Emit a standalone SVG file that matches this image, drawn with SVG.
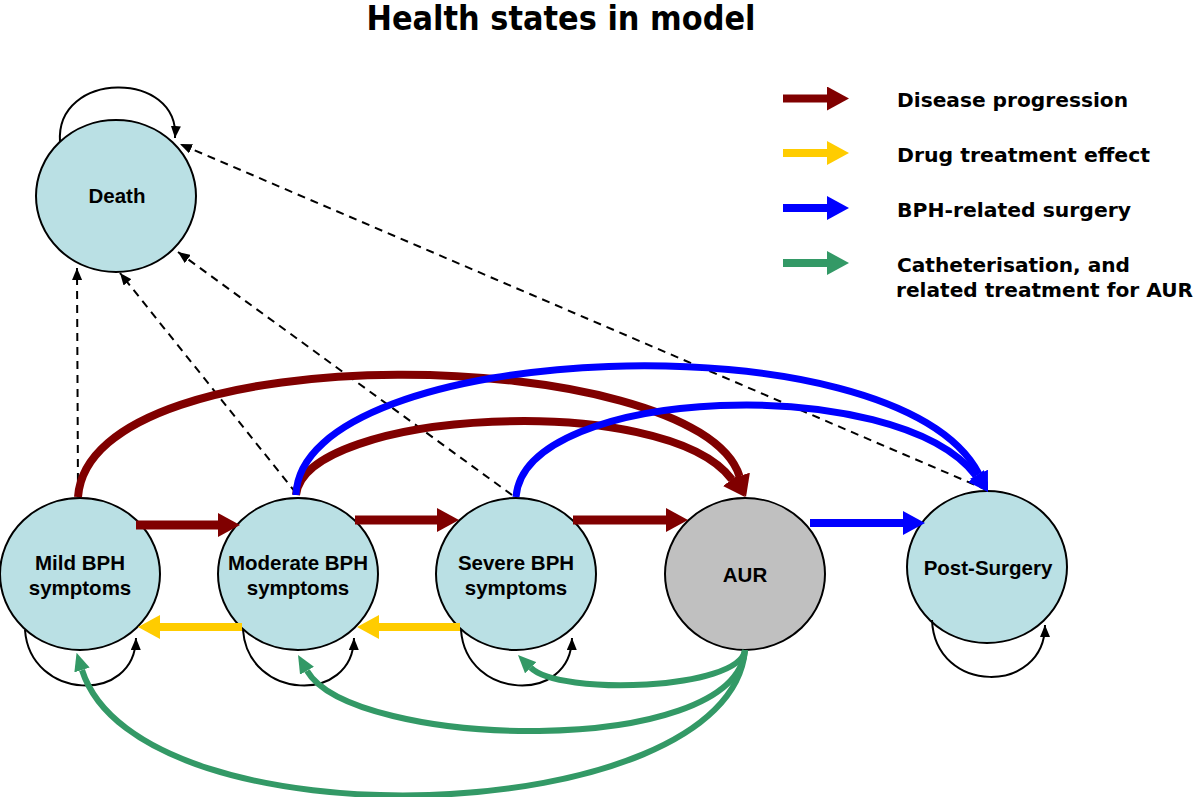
<svg xmlns="http://www.w3.org/2000/svg" width="1200" height="797" viewBox="0 0 1200 797">
<style>
.node{fill:#BAE0E4;stroke:#000;stroke-width:2}
.aur{fill:#C0C0C0;stroke:#000;stroke-width:2}
.lbl{font-family:"Liberation Sans",Arial,sans-serif;font-weight:bold;font-size:20.5px;fill:#000;text-anchor:middle}
.leg{font-family:"DejaVu Sans",Verdana,sans-serif;font-weight:bold;font-size:19.5px;fill:#000}
.title{font-family:"DejaVu Sans",Verdana,sans-serif;font-weight:bold;font-size:34px;fill:#000;text-anchor:middle}
.dash{fill:none;stroke:#000;stroke-width:2;stroke-dasharray:8,6;marker-end:url(#hk)}
.loop{fill:none;stroke:#000;stroke-width:2;marker-end:url(#hk)}
.red{fill:none;stroke:#800000;stroke-width:9}
.yel{fill:none;stroke:#FFCC00;stroke-width:8}
.blu{fill:none;stroke:#0000FF;stroke-width:7}
.grn{fill:none;stroke:#339966;stroke-width:6}
</style>
<defs>
<marker id="hk" viewBox="0 0 12 10" refX="12" refY="5" markerWidth="12" markerHeight="10" markerUnits="userSpaceOnUse" orient="auto"><path d="M0,0 L12,5 L0,10 Z" fill="#000"/></marker>
<marker id="hr" viewBox="0 0 22 24" refX="0" refY="12" markerWidth="22" markerHeight="24" markerUnits="userSpaceOnUse" orient="auto"><path d="M0,0 L22,12 L0,24 Z" fill="#800000"/></marker>
<marker id="hrc" viewBox="0 0 22 22" refX="0" refY="11" markerWidth="22" markerHeight="22" markerUnits="userSpaceOnUse" orient="auto"><path d="M0,0 L22,11 L0,22 Z" fill="#800000"/></marker>
<marker id="hy" viewBox="0 0 22 24" refX="0" refY="12" markerWidth="22" markerHeight="24" markerUnits="userSpaceOnUse" orient="auto"><path d="M0,0 L22,12 L0,24 Z" fill="#FFCC00"/></marker>
<marker id="hb" viewBox="0 0 22 24" refX="0" refY="12" markerWidth="22" markerHeight="24" markerUnits="userSpaceOnUse" orient="auto"><path d="M0,0 L22,12 L0,24 Z" fill="#0000FF"/></marker>
<marker id="hbc" viewBox="0 0 20 20" refX="0" refY="10" markerWidth="20" markerHeight="20" markerUnits="userSpaceOnUse" orient="auto"><path d="M0,0 L20,10 L0,20 Z" fill="#0000FF"/></marker>
<marker id="hg" viewBox="0 0 22 24" refX="0" refY="12" markerWidth="22" markerHeight="24" markerUnits="userSpaceOnUse" orient="auto"><path d="M0,0 L22,12 L0,24 Z" fill="#339966"/></marker>
<marker id="hgc" viewBox="0 0 18 16" refX="0" refY="8" markerWidth="18" markerHeight="16" markerUnits="userSpaceOnUse" orient="auto"><path d="M0,0 L18,8 L0,16 Z" fill="#339966"/></marker>
</defs>
<rect width="1200" height="797" fill="#fff"/>
<text class="title" x="561" y="30" textLength="389" lengthAdjust="spacingAndGlyphs">Health states in model</text>

<g id="legend">
<path class="red" d="M783,98.5 L827,98.5" style="stroke-width:8" marker-end="url(#hr)"/>
<path class="yel" d="M783,153 L827,153" marker-end="url(#hy)"/>
<path class="blu" d="M783,208 L827,208" style="stroke-width:8" marker-end="url(#hb)"/>
<path class="grn" d="M783,263 L827,263" style="stroke-width:8" marker-end="url(#hg)"/>
<text class="leg" x="897" y="107" textLength="231" lengthAdjust="spacingAndGlyphs">Disease progression</text>
<text class="leg" x="897" y="162" textLength="253" lengthAdjust="spacingAndGlyphs">Drug treatment effect</text>
<text class="leg" x="897" y="217" textLength="234" lengthAdjust="spacingAndGlyphs">BPH-related surgery</text>
<text class="leg" x="897" y="272" textLength="233" lengthAdjust="spacingAndGlyphs">Catheterisation, and</text>
<text class="leg" x="896" y="297" textLength="297" lengthAdjust="spacingAndGlyphs">related treatment for AUR</text>
</g>

<g id="death"><ellipse class="node" cx="116" cy="196" rx="80" ry="76"/><text class="lbl" x="117" y="203">Death</text></g>
<g id="mild"><ellipse class="node" cx="80" cy="574" rx="80" ry="76"/><text class="lbl" x="80" y="570">Mild BPH</text><text class="lbl" x="80" y="595">symptoms</text></g>
<g id="moderate"><ellipse class="node" cx="298" cy="574" rx="80" ry="76"/><text class="lbl" x="298" y="570">Moderate BPH</text><text class="lbl" x="298" y="595">symptoms</text></g>
<g id="severe"><ellipse class="node" cx="516" cy="574" rx="80" ry="76"/><text class="lbl" x="516" y="570">Severe BPH</text><text class="lbl" x="516" y="595">symptoms</text></g>
<g id="aur"><ellipse class="aur" cx="745" cy="574" rx="80" ry="76"/><text class="lbl" x="745" y="582">AUR</text></g>
<g id="postsurgery"><ellipse class="node" cx="987" cy="567" rx="80" ry="76"/><text class="lbl" x="988" y="575">Post-Surgery</text></g>

<g id="connectors">
<path class="loop" d="M60,142 C55,70 180,70 175,138"/>
<path class="loop" d="M25,630 C30,700 135,705 136,638"/>
<path class="loop" d="M243,630 C248,700 353,705 354,638"/>
<path class="loop" d="M461,630 C466,700 571,705 572,638"/>
<path class="loop" d="M932,620 C935,695 1045,695 1045,625"/>
<path class="dash" d="M78,495 L77,268"/>
<path class="dash" d="M296,493 L120,273"/>
<path class="dash" d="M512,495 L178,252"/>
<path class="dash" d="M987,490 L180,144"/>
<path class="red" d="M136,525 L218,525" marker-end="url(#hr)"/>
<path class="red" d="M355,520 L437,520" marker-end="url(#hr)"/>
<path class="red" d="M573,520 L666,520" marker-end="url(#hr)"/>
<path class="red" style="stroke-width:8" d="M78,497 C90,330 698,345 739.4,476" marker-end="url(#hrc)"/>
<path class="red" style="stroke-width:8" d="M296,495 C305,410 665,390 731.8,479.4" marker-end="url(#hrc)"/>
<path class="yel" d="M242,627 L160,627" marker-end="url(#hy)"/>
<path class="yel" d="M460,627 L379,627" marker-end="url(#hy)"/>
<path class="blu" style="stroke-width:8" d="M810,523 L903,523" marker-end="url(#hb)"/>
<path class="blu" d="M296,495 C300,340 898,314 979,474.2" marker-end="url(#hbc)"/>
<path class="blu" d="M516,497 C525,385 898,372 976,476" marker-end="url(#hbc)"/>
<path class="grn" d="M745,650 C740,690 559,696 530.7,667.7" marker-end="url(#hgc)"/>
<path class="grn" d="M745,650 C735,760 352,749 307,670.7" marker-end="url(#hgc)"/>
<path class="grn" d="M745,650 C730,830 139,850 82,670" marker-end="url(#hgc)"/>
</g>
</svg>
